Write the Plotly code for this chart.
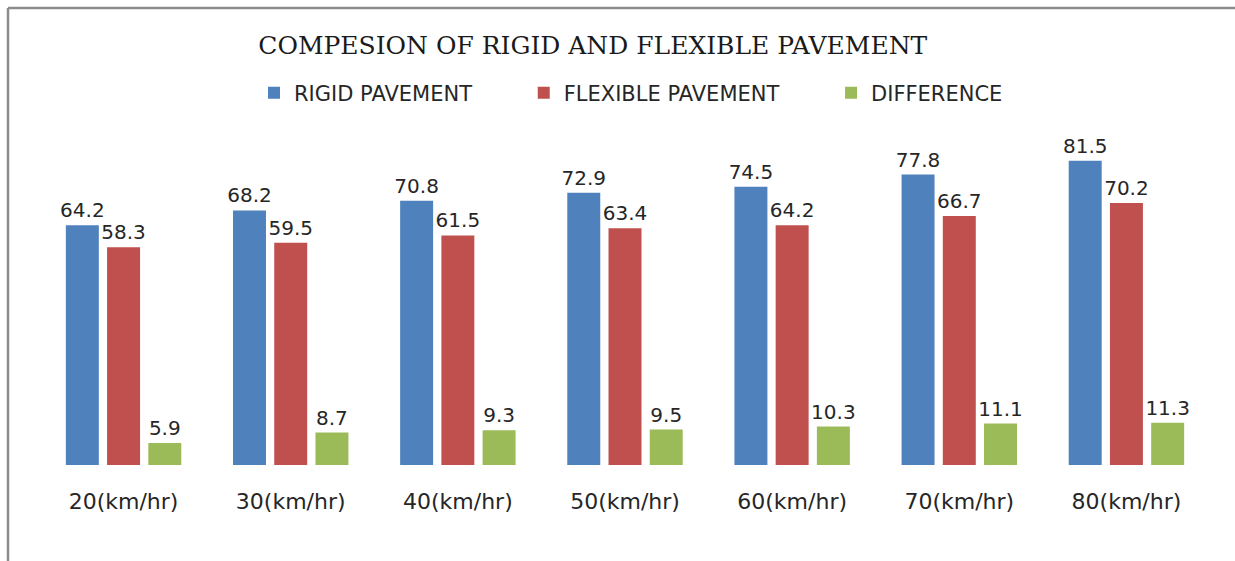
import plotly.graph_objects as go

categories = ["20(km/hr)", "30(km/hr)", "40(km/hr)", "50(km/hr)", "60(km/hr)", "70(km/hr)", "80(km/hr)"]
rigid = [64.2, 68.2, 70.8, 72.9, 74.5, 77.8, 81.5]
flexible = [58.3, 59.5, 61.5, 63.4, 64.2, 66.7, 70.2]
difference = [5.9, 8.7, 9.3, 9.5, 10.3, 11.1, 11.3]
series_names = ["RIGID PAVEMENT", "FLEXIBLE PAVEMENT", "DIFFERENCE"]
colors = ["#4F81BD", "#C0504D", "#9BBB59"]

W, H = 1235, 561
ML, MR, MT, MB = 40, 25, 129, 96
pw = W - ML - MR
ph = H - MT - MB

PAD = "\u00a0" * 7

fig = go.Figure()
for name, vals, col in zip(series_names, [rigid, flexible, difference], colors):
    fig.add_trace(go.Bar(
        x=categories, y=vals, name=name + PAD, marker=dict(color=col, line=dict(width=0)),
        text=[f"{v:.1f}" for v in vals], textposition="outside", cliponaxis=False,
        constraintext="none",
        textfont=dict(family="DejaVu Sans", size=20, color="#262626"),
    ))

def px_x(p):
    return (p - ML) / pw

def px_y(p):
    return (H - MB - p) / ph

fig.update_layout(
    width=W, height=H,
    margin=dict(l=ML, r=MR, t=MT, b=MB),
    paper_bgcolor="white", plot_bgcolor="white",
    barmode="group", bargap=0.26, bargroupgap=0.2,
    title=dict(text="COMPESION OF RIGID AND FLEXIBLE PAVEMENT",
               font=dict(family="DejaVu Serif", size=25, color="#1a1a1a"),
               x=0.48, xanchor="center", y=1 - 45 / H, yanchor="middle"),
    legend=dict(orientation="h", x=254 / W, xanchor="left", xref="container",
                y=1 - 93 / H, yanchor="middle", yref="container",
                font=dict(family="DejaVu Sans", size=21, color="#262626"),
                traceorder="normal"),
    xaxis=dict(showline=False, showgrid=False, ticks="", ticklabelstandoff=21,
               tickfont=dict(family="DejaVu Sans", size=22, color="#262626")),
    yaxis=dict(range=[0, 90], visible=False),
    showlegend=True,
    shapes=[
        dict(type="line", xref="paper", yref="paper", x0=px_x(8), x1=px_x(8), y0=px_y(8), y1=px_y(H),
             line=dict(color="#8c8c8c", width=2.5)),
        dict(type="line", xref="paper", yref="paper", x0=px_x(8), x1=px_x(W), y0=px_y(8), y1=px_y(8),
             line=dict(color="#8c8c8c", width=2.5)),
    ],
)

fig.write_html("out.html")
